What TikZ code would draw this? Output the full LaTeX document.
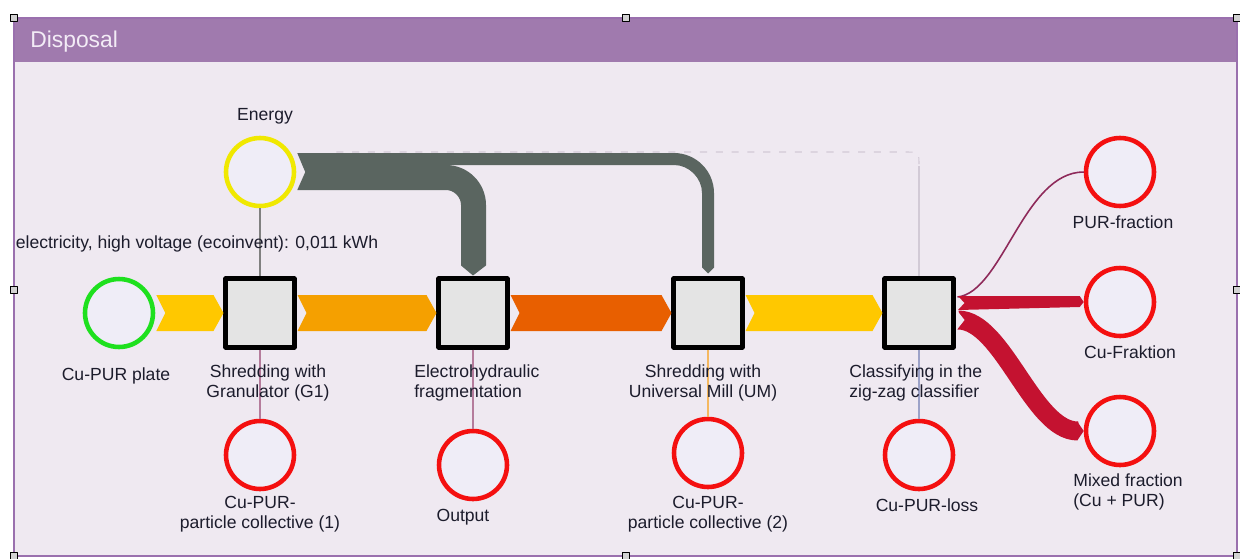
\documentclass[tikz,border=0pt]{standalone}
\usepackage{fontspec}
\setmainfont{Liberation Sans}
\usetikzlibrary{calc}
\definecolor{panel}{HTML}{EFE9F1}
\definecolor{header}{HTML}{A07AAE}
\definecolor{frame}{HTML}{9A70AE}
\definecolor{titletxt}{HTML}{F3ECF6}
\definecolor{circfill}{HTML}{EFEDF7}
\definecolor{boxfill}{HTML}{E4E4E4}
\definecolor{srcgreen}{HTML}{1EE01E}
\definecolor{enyellow}{HTML}{F0E800}
\definecolor{outred}{HTML}{F41010}
\definecolor{gold}{HTML}{FFC800}
\definecolor{amber}{HTML}{F5A000}
\definecolor{rust}{HTML}{E85F00}
\definecolor{slate}{HTML}{5A6560}
\definecolor{crimson}{HTML}{C41230}
\definecolor{plum}{HTML}{8E2A5A}
\definecolor{mauve}{HTML}{B57C9C}
\definecolor{peach}{HTML}{F5B860}
\definecolor{steel}{HTML}{9CA2C8}
\definecolor{faint}{HTML}{D2CAD6}
\definecolor{txt}{HTML}{1C1C2C}
\newcommand{\sankey}[4]{\fill[#4] ($(#1.east)+(1,-#3)$) -- ($(#2.west)+(-10,-#3)$) -- (#2.west) -- ($(#2.west)+(-10,#3)$) -- ($(#1.east)+(1,#3)$) -- ($(#1.east)+(10,0)$) -- cycle;}
\begin{document}
\begin{tikzpicture}[x=0.02cm, y=-0.02cm, line join=round,
  font=\fontsize{10}{11.5}\selectfont,
  flow/.style={circle, minimum size=1.36cm, inner sep=0, line width=2.6pt, fill=circfill},
  srcnode/.style={flow, draw=srcgreen},
  ennode/.style={flow, draw=enyellow},
  outnode/.style={flow, draw=outred},
  proc/.style={rectangle, minimum size=1.38cm, inner sep=0, line width=2.3pt, draw=black, fill=boxfill},
  lbl/.style={inner sep=0, text=txt},
  thin/.style={line width=0.6pt},
  handle/.style={draw=black, fill=gray!35, line width=0.6pt}]
\useasboundingbox (0,0) rectangle (1240,558);
\fill[white] (0,0) rectangle (1240,558);
\fill[panel] (14,18) rectangle (1237,556);
\fill[header] (14,18) rectangle (1237,62);
\draw[frame, line width=0.7pt] (14,18) rectangle (1237,556);
\node[anchor=west, inner sep=0, text=titletxt, font=\fontsize{13}{15}\selectfont] (title) at (30,42) {Disposal};
\node[srcnode] (plate) at (119,313) {};
\node[ennode] (energy) at (260,172) {};
\node[proc] (g1) at (260,313) {};
\node[proc] (eh) at (473,313) {};
\node[proc] (um) at (708,313) {};
\node[proc] (zz) at (919,313) {};
\node[outnode] (coll1) at (260,455) {};
\node[outnode] (output) at (473,465) {};
\node[outnode] (coll2) at (708,453) {};
\node[outnode] (loss) at (919,455) {};
\node[outnode] (purfr) at (1120,172) {};
\node[outnode] (cufr) at (1120,302) {};
\node[outnode] (mixfr) at (1120,431) {};
\coordinate (kEh) at (eh.north |- energy.east);
\coordinate (kUm) at (um.north |- energy.east);
\coordinate (kZz) at (zz.north |- energy.east);
\draw[gray, thin] (energy.south) -- (g1.north);
\draw[mauve, thin] (g1.south) -- (coll1.north);
\draw[mauve, thin] (eh.south) -- (output.north);
\draw[peach, thin] (um.south) -- (coll2.north);
\draw[steel, thin] (zz.south) -- (loss.north);
\draw[faint, thin, dash pattern=on 4pt off 5pt] ($(energy.east)+(40,-20)$) -- ($(kZz)+(-14,-20)$) .. controls ($(kZz)+(0,-20)$) .. ($(kZz)+(0,-6)$);
\draw[faint, thin] ($(kZz)+(0,-6)$) -- (zz.north);
\sankey{plate}{g1}{18}{gold}
\sankey{g1}{eh}{18}{amber}
\sankey{eh}{um}{18}{rust}
\sankey{um}{zz}{18}{gold}
\fill[slate] ($(energy.east)+(1,-19)$) -- ($(kUm)+(-34,-19)$) .. controls ($(kUm)+(-12,-19)$) and ($(kUm)+(6,-1)$) .. ($(kUm)+(6,21)$) -- ($(um.north)+(6,-9)$) -- ($(um.north)+(0,-3)$) -- ($(um.north)+(-6,-9)$) -- ($(kUm)+(-6,21)$) .. controls ($(kUm)+(-6,6)$) and ($(kUm)+(-19,-7)$) .. ($(kUm)+(-34,-7)$) -- ($(energy.east)+(6,-7)$) -- cycle;
\fill[slate] ($(energy.east)+(6,-7)$) -- ($(kEh)+(-27,-7)$) .. controls ($(kEh)+(-5,-7)$) and ($(kEh)+(13,11)$) .. ($(kEh)+(13,33)$) -- ($(eh.north)+(13,-11)$) -- ($(eh.north)+(0,-1)$) -- ($(eh.north)+(-12,-11)$) -- ($(kEh)+(-12,33)$) .. controls ($(kEh)+(-12,25)$) and ($(kEh)+(-19,18)$) .. ($(kEh)+(-27,18)$) -- ($(energy.east)+(1,18)$) -- ($(energy.east)+(9,0)$) -- cycle;
\draw[plum, line width=0.9pt] ($(zz.east)+(2,-16)$) .. controls +(45,-5) and +(-60,0) .. (purfr.west);
\fill[crimson] ($(zz.east)+(2.5,-17)$) -- ($(cufr.west)+(-4,-6)$) -- (cufr.west) -- ($(cufr.west)+(-4,5)$) -- ($(zz.east)+(2.5,-3)$) -- ($(zz.east)+(9,-10)$) -- cycle;
\draw[crimson, line width=0.38cm] ($(zz.east)+(2.5,7)$) .. controls +(45,0) and +(-45,0) .. ($(mixfr.west)+(-6,0)$);
\fill[crimson] ($(mixfr.west)+(-6.5,-9.5)$) -- (mixfr.west) -- ($(mixfr.west)+(-6.5,9.5)$) -- cycle;
\fill[panel] ($(zz.east)+(1.5,-2.5)$) -- ($(zz.east)+(9,7)$) -- ($(zz.east)+(1.5,16.5)$) -- cycle;
\node[lbl] (energy-l) at (265,116) {Energy};
\node[lbl] (elec-l) at (197,244) {electricity, high voltage (ecoinvent): 0,011 kWh};
\node[lbl] (plate-l) at (116,376) {Cu-PUR plate};
\node[lbl, align=center] (g1-l) at (268,383) {Shredding with\\Granulator (G1)};
\node[lbl, align=left, anchor=west] (eh-l) at (414,383) {Electrohydraulic\\fragmentation};
\node[lbl, align=center] (um-l) at (703,383) {Shredding with\\Universal Mill (UM)};
\node[lbl, align=left, anchor=west] (zz-l) at (849,383) {Classifying in the\\zig-zag classifier};
\node[lbl, align=center] (coll1-l) at (260,514) {Cu-PUR-\\particle collective (1)};
\node[lbl] (output-l) at (463,517) {Output};
\node[lbl, align=center] (coll2-l) at (708,514) {Cu-PUR-\\particle collective (2)};
\node[lbl] (loss-l) at (927,505) {Cu-PUR-loss};
\node[lbl] (purfr-l) at (1123,222) {PUR-fraction};
\node[lbl] (cufr-l) at (1130,352) {Cu-Fraktion};
\node[lbl, align=left, anchor=west] (mixfr-l) at (1073,492) {Mixed fraction\\(Cu + PUR)};
\foreach \hx/\hy in {14/18, 626/18, 1237/18, 14/290, 1237/290, 14/556, 626/556, 1237/556}
  \draw[handle] (\hx-3.5,\hy-3.5) rectangle (\hx+3.5,\hy+3.5);
\end{tikzpicture}
\end{document}
